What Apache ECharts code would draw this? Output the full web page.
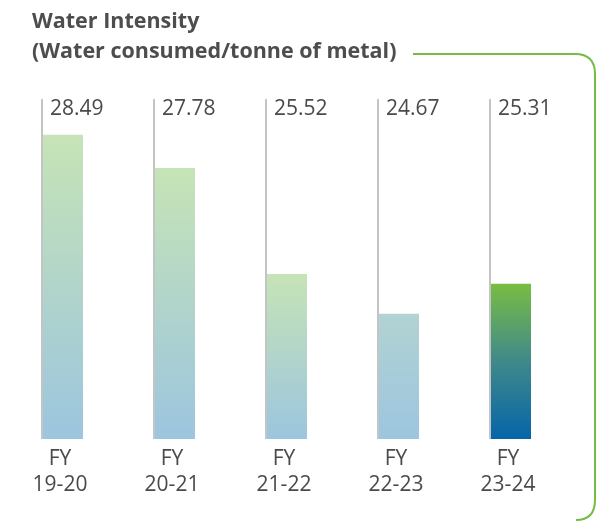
<!DOCTYPE html>
<html>
<head>
<meta charset="utf-8">
<script src="https://cdn.jsdelivr.net/npm/echarts@6/dist/echarts.min.js"></script>
<style>
  html, body { margin: 0; padding: 0; background: #fff; }
  #chart { width: 605px; height: 522px; }
</style>
</head>
<body>
<div id="chart"></div>
<script>
// Water intensity by financial year (water consumed per tonne of metal)
const categories = ['FY\n19-20', 'FY\n20-21', 'FY\n21-22', 'FY\n22-23', 'FY\n23-24'];
const intensity = [28.49, 27.78, 25.52, 24.67, 25.31];

const Y_MIN = 22;
const Y_MAX = 29.25;
const BAR_W = 41;
const TEXT = '#4a4a4a';
const FONT = 'Open Sans';
const FRAME = '#76bc43';

function gradient(stops) {
  return {
    type: 'linear', x: 0, y: 0, x2: 0, y2: 1,
    colorStops: stops.map(([offset, color]) => ({ offset, color }))
  };
}
// Faded gradient for past years, strong gradient for the current year
const fills = [
  gradient([[0, '#c6e4b6'], [1, '#9cc5df']]),
  gradient([[0, '#c6e4b6'], [1, '#9cc5df']]),
  gradient([[0, '#c6e4b6'], [1, '#9cc5df']]),
  gradient([[0, '#b2d3d3'], [1, '#9cc5df']]),
  gradient([[0, '#78bd43'], [0.5, '#40898a'], [1, '#0565a8']])
];

const chart = echarts.init(document.getElementById('chart'), null, { renderer: 'canvas' });

const frameStyle = { stroke: FRAME, lineWidth: 2, fill: null };

chart.setOption({
  animation: false,
  backgroundColor: '#ffffff',
  title: {
    text: 'Water Intensity\n(Water consumed/tonne of metal)',
    left: 27,
    top: 2,
    textStyle: {
      fontFamily: FONT,
      fontWeight: 'bold',
      fontSize: 21.5,
      lineHeight: 30,
      color: '#4d4d4d'
    }
  },
  grid: { left: 6.5, right: 38.5, top: 99, bottom: 83, containLabel: false },
  xAxis: {
    type: 'category',
    data: categories,
    axisLine: { show: false },
    axisTick: { show: false },
    axisLabel: {
      margin: 7,
      fontFamily: FONT,
      fontSize: 21,
      lineHeight: 26,
      color: TEXT,
      padding: [0, 5, 0, 0]
    }
  },
  yAxis: {
    type: 'value',
    min: Y_MIN,
    max: Y_MAX,
    show: false,
    splitLine: { show: false }
  },
  series: [
    {
      type: 'bar',
      barWidth: BAR_W,
      data: intensity.map((v, i) => ({ value: v, itemStyle: { color: fills[i] } })),
      z: 2
    },
    {
      // Thin rule at the left of each bar with the value written beside it
      type: 'custom',
      data: intensity.map((v, i) => [i, v]),
      z: 3,
      renderItem: function (params, api) {
        const top = api.coord([api.value(0), Y_MAX]);
        const bottom = api.coord([api.value(0), Y_MIN]);
        const x = top[0] - BAR_W / 2;
        return {
          type: 'group',
          children: [
            {
              type: 'line',
              shape: { x1: x, y1: top[1], x2: x, y2: bottom[1] },
              style: { stroke: '#c4c4c4', lineWidth: 2 }
            },
            {
              type: 'text',
              x: x + 8,
              y: top[1] + 10,
              style: {
                text: api.value(1).toFixed(2),
                fill: TEXT,
                font: '21px "' + FONT + '"',
                align: 'left',
                verticalAlign: 'middle'
              }
            }
          ]
        };
      }
    }
  ],
  // Rounded green frame running from the subtitle down the right side
  graphic: [
    { type: 'line', shape: { x1: 413, y1: 54, x2: 575, y2: 54 }, style: frameStyle },
    { type: 'bezierCurve', shape: { x1: 575, y1: 54, cpx1: 595, cpy1: 54, x2: 595, y2: 74 }, style: frameStyle },
    { type: 'line', shape: { x1: 595, y1: 74, x2: 595, y2: 500 }, style: frameStyle },
    { type: 'bezierCurve', shape: { x1: 595, y1: 500, cpx1: 595, cpy1: 520, x2: 576, y2: 520 }, style: frameStyle }
  ]
});
</script>
</body>
</html>
